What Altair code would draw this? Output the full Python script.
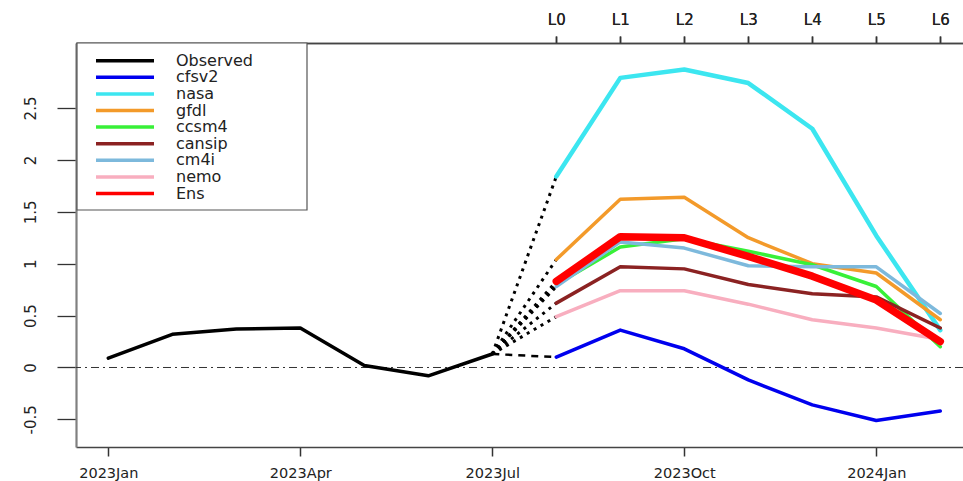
import json
import altair as alt
import pandas as pd

# Monthly index: 0 = 2023 Jan ... 13 = 2024 Feb
obs_months = [0, 1, 2, 3, 4, 5, 6]
observed = [0.09, 0.32, 0.37, 0.38, 0.02, -0.08, 0.13]

# Forecast leads L0..L6 (2023 Aug .. 2024 Feb)
lead_months = [7, 8, 9, 10, 11, 12, 13]
lead_labels = ["L0", "L1", "L2", "L3", "L4", "L5", "L6"]

cfsv2 = [0.10, 0.36, 0.18, -0.12, -0.36, -0.51, -0.42]
nasa = [1.84, 2.79, 2.87, 2.74, 2.30, 1.27, 0.36]
gfdl = [1.04, 1.62, 1.64, 1.25, 1.00, 0.91, 0.46]
ccsm4 = [0.80, 1.16, 1.24, 1.12, 0.99, 0.78, 0.20]
cansip = [0.62, 0.97, 0.95, 0.80, 0.71, 0.68, 0.38]
cm4i = [0.78, 1.21, 1.15, 0.98, 0.97, 0.97, 0.52]
nemo = [0.49, 0.74, 0.74, 0.61, 0.46, 0.38, 0.27]
ens = [0.83, 1.26, 1.25, 1.07, 0.88, 0.65, 0.25]

tick_months = [0, 3, 6, 9, 12]
tick_labels = ["2023Jan", "2023Apr", "2023Jul", "2023Oct", "2024Jan"]
y_ticks = [-0.5, 0, 0.5, 1, 1.5, 2, 2.5]

series_names = ["Observed", "cfsv2", "nasa", "gfdl", "ccsm4", "cansip", "cm4i", "nemo", "Ens"]
series_colors = ["#000000", "#0000EE", "#3CE6F0", "#F39A2A", "#38F038",
                 "#8B2222", "#7DB9DC", "#F8AEBF", "#FF0000"]
series_widths = [3.5, 3.5, 4.5, 3.5, 3.5, 3.5, 3.5, 3.5, 7.5]

forecasts = {"cfsv2": cfsv2, "nasa": nasa, "gfdl": gfdl, "ccsm4": ccsm4,
             "cansip": cansip, "cm4i": cm4i, "nemo": nemo, "Ens": ens}

# Long table of all drawn series
rows = [{"series": "Observed", "month": m, "value": v} for m, v in zip(obs_months, observed)]
for name, vals in forecasts.items():
    rows += [{"series": name, "month": m, "value": v} for m, v in zip(lead_months, vals)]
lines_df = pd.DataFrame(rows)

# Connectors from the last observation to each model's first lead
conn = []
for name, vals in forecasts.items():
    conn.append({"series": name, "month": obs_months[-1], "value": observed[-1]})
    conn.append({"series": name, "month": lead_months[0], "value": vals[0]})
conn_df = pd.DataFrame(conn)

legend_df = pd.DataFrame({"series": series_names, "row": list(range(len(series_names)))})

FONT = "DejaVu Sans"
TXT = "#222222"

x_scale = alt.Scale(domain=[-0.505, 13.355], nice=False, zero=False)
y_scale = alt.Scale(domain=[-0.766, 3.126], nice=False, zero=False)
color_scale = alt.Scale(domain=series_names, range=series_colors)
width_scale = alt.Scale(type="ordinal", domain=series_names, range=series_widths)

bottom_axis = alt.Axis(
    orient="bottom", values=tick_months, grid=False,
    labelExpr=f"{json.dumps(tick_labels)}[datum.value / 3]",
    tickSize=9, tickColor="#333333", tickWidth=1.5,
    domainColor="#444444", domainWidth=1.5,
    labelFont=FONT, labelFontSize=14.5, labelColor=TXT, labelPadding=10,
    labelBaseline="top", title=None,
)
top_axis = alt.Axis(
    orient="top", values=lead_months, grid=False,
    labelExpr=f"{json.dumps(lead_labels)}[datum.value - {lead_months[0]}]",
    tickSize=7, tickColor="#333333", tickWidth=1.5,
    domainColor="#444444", domainWidth=1.5,
    labelFont=FONT, labelFontSize=15, labelColor=TXT, labelPadding=9,
    title=None,
)
left_axis = alt.Axis(
    values=y_ticks, grid=False, labelExpr="'' + datum.value",
    tickSize=19, tickColor="#333333", tickWidth=1.3,
    domainColor="#808080", domainWidth=2.2,
    labelAngle=270, labelAlign="center", labelBaseline="bottom",
    labelFont=FONT, labelFontSize=15, labelColor=TXT, labelPadding=19,
    title=None,
)

zero_line = alt.Chart(pd.DataFrame({"z": [0]})).mark_rule(
    color="#333333", strokeWidth=1, strokeDash=[8, 4, 2, 4]
).encode(y=alt.Y("z:Q", scale=y_scale))

base_conn = alt.Chart(conn_df).encode(
    x=alt.X("month:Q", scale=x_scale, axis=top_axis),
    y=alt.Y("value:Q", scale=y_scale),
    detail="series:N",
)
dotted = base_conn.transform_filter(alt.datum.series != "cfsv2").mark_line(
    color="#000000", strokeWidth=3, strokeDash=[3, 5]
)
dashed = base_conn.transform_filter(alt.datum.series == "cfsv2").mark_line(
    color="#000000", strokeWidth=2.5, strokeDash=[7, 6]
)

lines = alt.Chart(lines_df).mark_line(strokeCap="round", strokeJoin="round").encode(
    x=alt.X("month:Q", scale=x_scale, axis=bottom_axis),
    y=alt.Y("value:Q", scale=y_scale, axis=left_axis),
    color=alt.Color("series:N", scale=color_scale, legend=None),
    strokeWidth=alt.StrokeWidth("series:N", scale=width_scale, legend=None),
)

# Boxed key in the upper-left corner
legend_base = alt.Chart(legend_df).transform_calculate(ly="17.7 + datum.row * 16.6")
legend_box = alt.Chart(pd.DataFrame({"b": [0]})).mark_rect(
    fill="white", stroke="#555555", strokeWidth=1.2
).encode(x=alt.value(1), x2=alt.value(231), y=alt.value(0), y2=alt.value(167))
legend_lines = legend_base.mark_rule(strokeWidth=3.5).encode(
    x=alt.value(20), x2=alt.value(78),
    y=alt.Y("ly:Q", scale=None, axis=None),
    color=alt.Color("series:N", scale=color_scale, legend=None),
)
legend_text = legend_base.mark_text(
    align="left", baseline="middle", font=FONT, fontSize=16, color=TXT
).encode(x=alt.value(100), y=alt.Y("ly:Q", scale=None, axis=None), text="series:N")

chart = alt.layer(
    zero_line, dotted, dashed, lines, legend_box, legend_lines, legend_text
).resolve_axis(x="independent").properties(
    width=887, height=404,
    padding={"left": 76, "top": 43, "right": 0, "bottom": 34},
    autosize=alt.AutoSizeParams(type="none"),
    background="white",
).configure_view(stroke=None)

chart.save("out.html", embed_options={"renderer": "svg", "actions": False})
